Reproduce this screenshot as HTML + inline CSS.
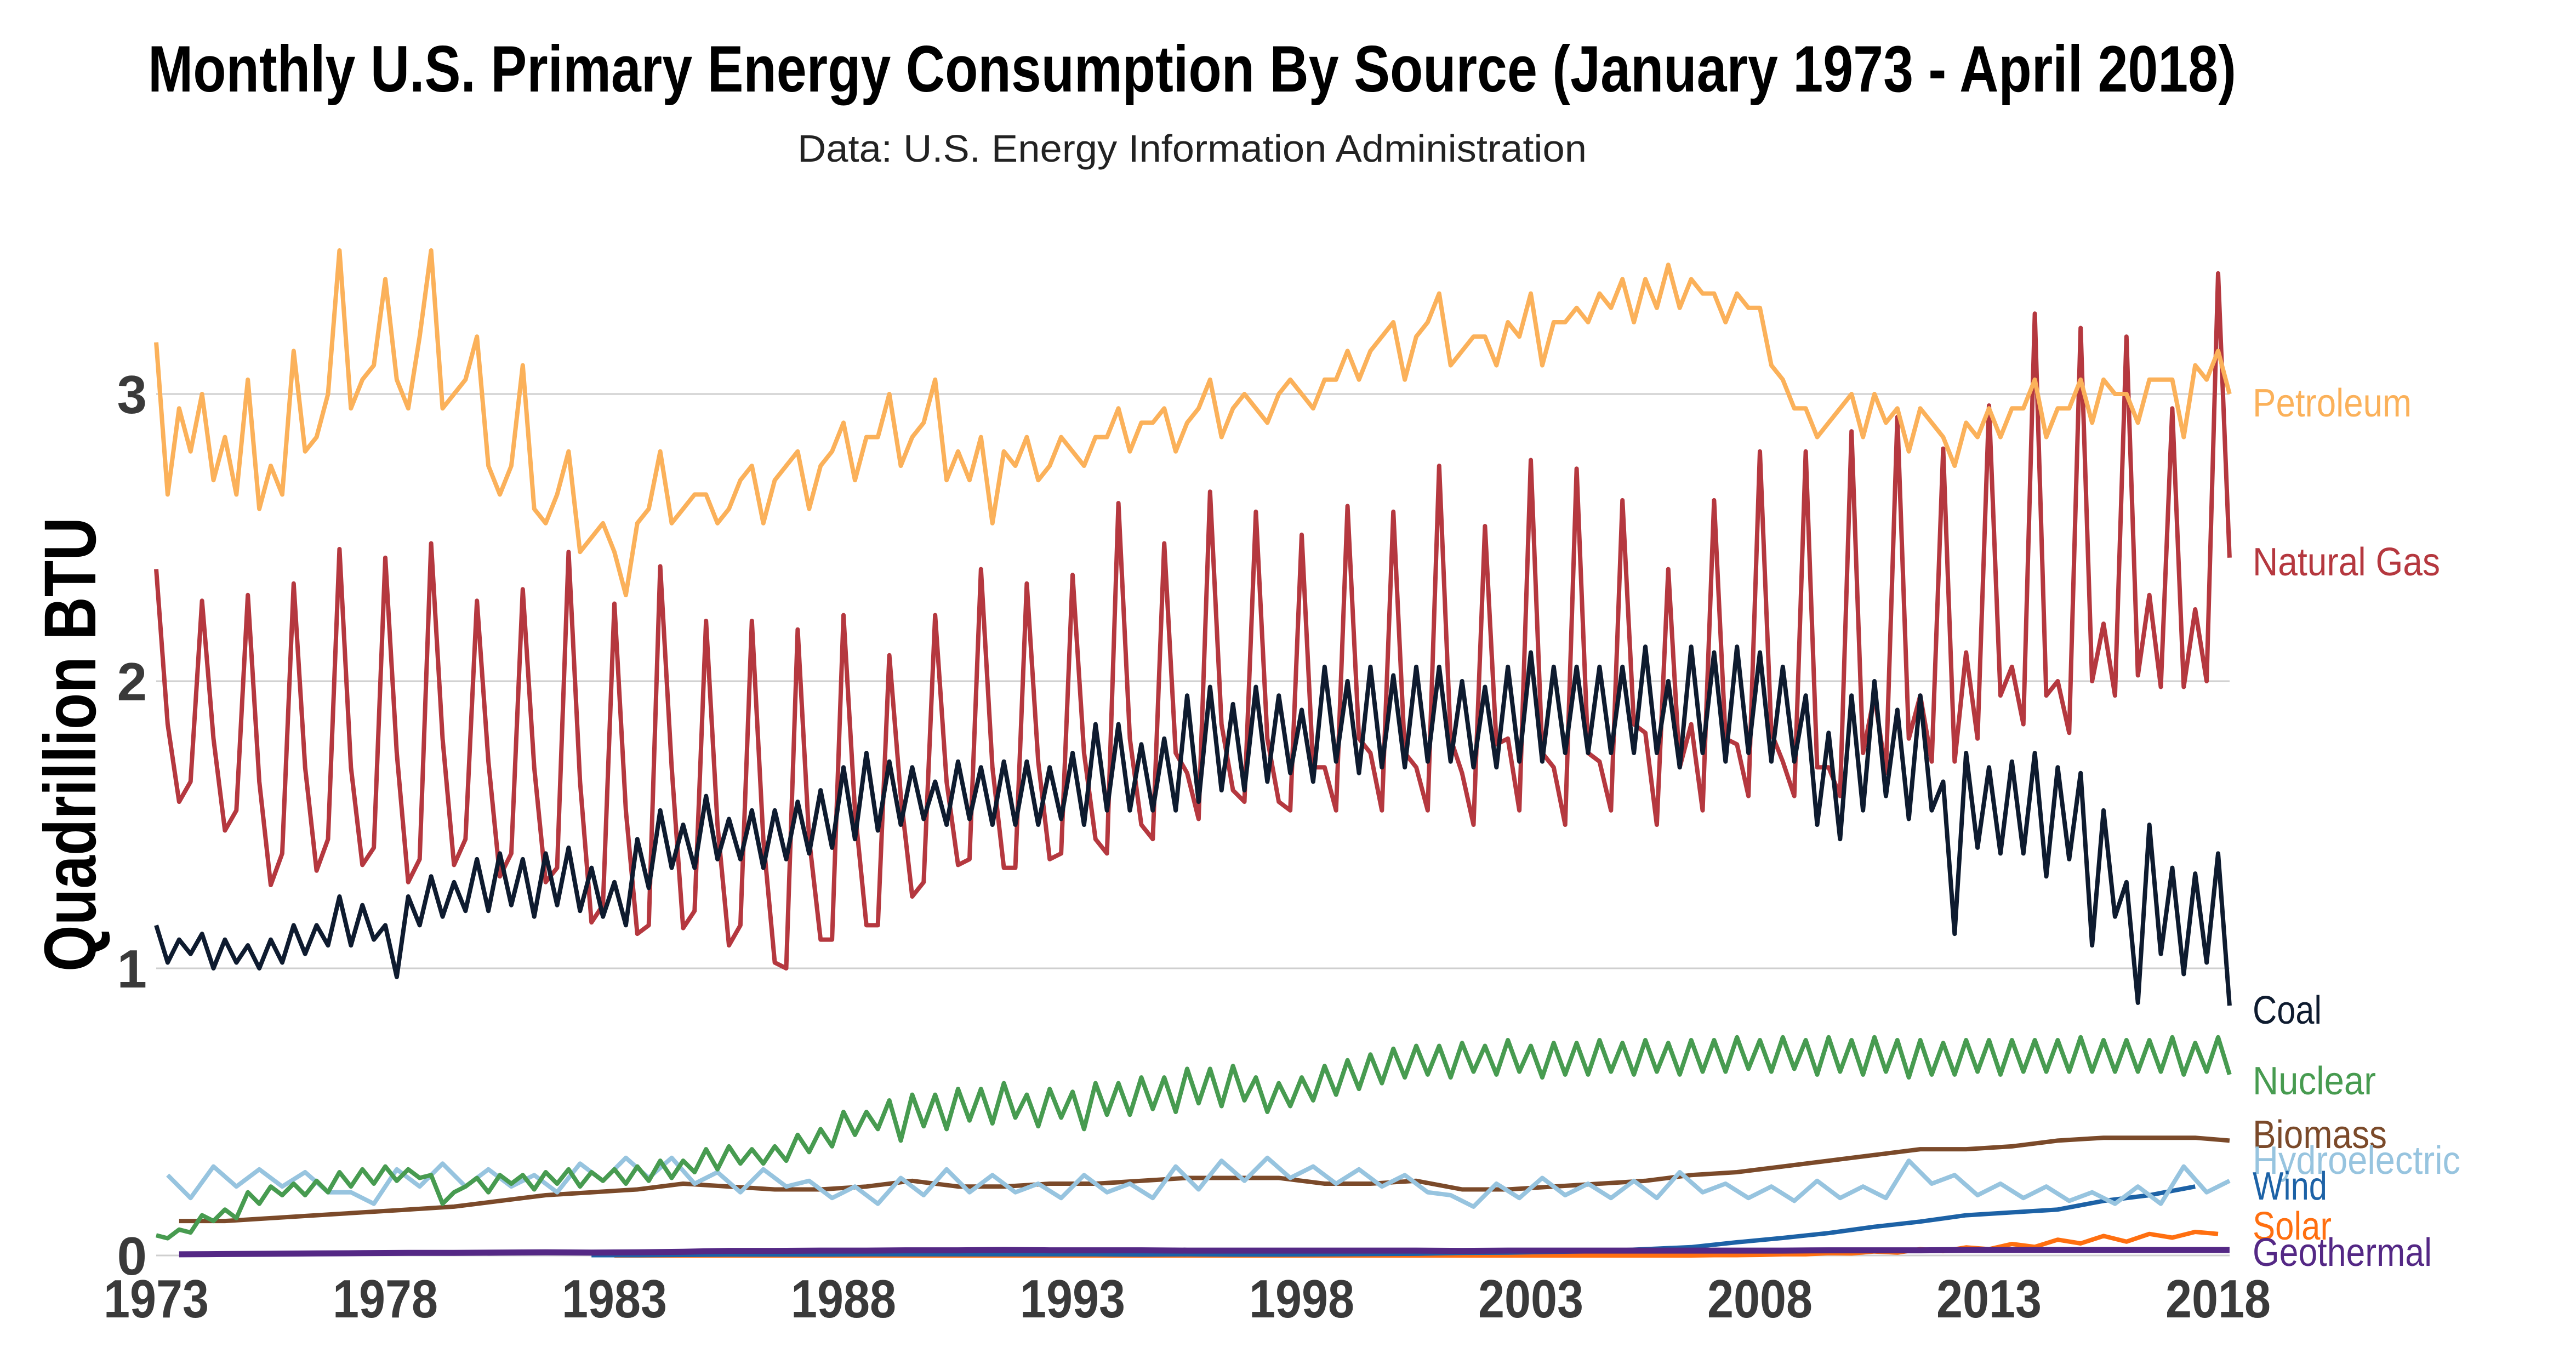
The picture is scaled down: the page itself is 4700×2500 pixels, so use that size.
<!DOCTYPE html>
<html><head><meta charset="utf-8"><style>
html,body{margin:0;padding:0;background:#fff;}
svg{display:block;}
text{font-family:"Liberation Sans Narrow","Liberation Sans",sans-serif;}
</style></head><body>
<svg id="chart" width="4700" height="2500" viewBox="0 0 4700 2500" xmlns="http://www.w3.org/2000/svg">
<rect width="4700" height="2500" fill="#fff"/>
<text x="270" y="167" font-size="120" font-weight="bold" textLength="3810" lengthAdjust="spacingAndGlyphs" fill="#000">Monthly U.S. Primary Energy Consumption By Source (January 1973 - April 2018)</text>
<text x="1455" y="295" font-size="70" textLength="1440" lengthAdjust="spacingAndGlyphs" fill="#222">Data: U.S. Energy Information Administration</text>
<text transform="translate(174,1773) rotate(-90)" x="0" y="0" font-size="134" font-weight="bold" textLength="829" lengthAdjust="spacingAndGlyphs" fill="#000">Quadrillion BTU</text>
<g id="grid"></g>
<g id="yticks"></g>
<g id="xticks"></g>
<g id="series"></g>
<g id="labels"></g>
</svg>
<script>
// ---- data (quarterly: Jan, Apr, Jul, Oct unless noted) ----
const yTickValues = [0, 1, 2, 3];
const xTickYears = [1973, 1978, 1983, 1988, 1993, 1998, 2003, 2008, 2013, 2018];

const petroleum = [3.18,2.65,2.95,2.80, 3.00,2.70,2.85,2.65, 3.05,2.60,2.75,2.65, 3.15,2.80,2.85,3.00, 3.50,2.95,3.05,3.10,
 3.40,3.05,2.95,3.20, 3.50,2.95,3.00,3.05, 3.20,2.75,2.65,2.75, 3.10,2.60,2.55,2.65, 2.80,2.45,2.50,2.55,
 2.45,2.30,2.55,2.60, 2.80,2.55,2.60,2.65, 2.65,2.55,2.60,2.70, 2.75,2.55,2.70,2.75, 2.80,2.60,2.75,2.80,
 2.90,2.70,2.85,2.85, 3.00,2.75,2.85,2.90, 3.05,2.70,2.80,2.70, 2.85,2.55,2.80,2.75, 2.85,2.70,2.75,2.85,
 2.80,2.75,2.85,2.85, 2.95,2.80,2.90,2.90, 2.95,2.80,2.90,2.95, 3.05,2.85,2.95,3.00, 2.95,2.90,3.00,3.05,
 3.00,2.95,3.05,3.05, 3.15,3.05,3.15,3.20, 3.25,3.05,3.20,3.25, 3.35,3.10,3.15,3.20, 3.20,3.10,3.25,3.20,
 3.35,3.10,3.25,3.25, 3.30,3.25,3.35,3.30, 3.40,3.25,3.40,3.30, 3.45,3.30,3.40,3.35, 3.35,3.25,3.35,3.30,
 3.30,3.10,3.05,2.95, 2.95,2.85,2.90,2.95, 3.00,2.85,3.00,2.90, 2.95,2.80,2.95,2.90, 2.85,2.75,2.90,2.85,
 2.95,2.85,2.95,2.95, 3.05,2.85,2.95,2.95, 3.05,2.90,3.05,3.00, 3.00,2.90,3.05,3.05, 3.05,2.85,3.10,3.05,
 3.15,3.00];
const naturalGas = [2.39,1.85,1.58,1.65, 2.28,1.80,1.48,1.55, 2.30,1.65,1.29,1.40, 2.34,1.70,1.34,1.45, 2.46,1.70,1.36,1.42,
 2.43,1.75,1.30,1.38, 2.48,1.80,1.36,1.45, 2.28,1.72,1.32,1.40, 2.32,1.70,1.30,1.35, 2.45,1.65,1.16,1.22,
 2.27,1.55,1.12,1.15, 2.40,1.70,1.14,1.20, 2.21,1.50,1.08,1.15, 2.21,1.45,1.02,1.00, 2.18,1.45,1.10,1.10,
 2.23,1.55,1.15,1.15, 2.09,1.60,1.25,1.30, 2.23,1.65,1.36,1.38, 2.39,1.70,1.35,1.35, 2.34,1.72,1.38,1.40,
 2.37,1.75,1.45,1.40, 2.62,1.80,1.50,1.45, 2.48,1.75,1.68,1.52, 2.66,1.85,1.62,1.58, 2.59,1.80,1.58,1.55,
 2.51,1.70,1.70,1.55, 2.61,1.80,1.75,1.55, 2.59,1.75,1.70,1.55, 2.75,1.80,1.68,1.50, 2.54,1.78,1.80,1.55,
 2.77,1.75,1.70,1.50, 2.74,1.75,1.72,1.55, 2.63,1.85,1.82,1.50, 2.39,1.70,1.85,1.55, 2.63,1.80,1.78,1.60,
 2.80,1.82,1.72,1.60, 2.80,1.70,1.70,1.60, 2.87,1.75,1.95,1.68, 2.92,1.80,1.95,1.72, 2.81,1.72,2.10,1.80,
 2.96,1.95,2.05,1.85, 3.28,1.95,2.00,1.82, 3.23,2.00,2.20,1.95, 3.20,2.02,2.30,1.98, 2.95,1.98,2.25,2.00,
 3.42,2.43];
const coal = [1.15,1.02,1.10,1.05, 1.12,1.00,1.10,1.02, 1.08,1.00,1.10,1.02, 1.15,1.05,1.15,1.08, 1.25,1.08,1.22,1.10,
 1.15,0.97,1.25,1.15, 1.32,1.18,1.30,1.20, 1.38,1.20,1.40,1.22, 1.38,1.18,1.40,1.22, 1.42,1.20,1.35,1.18,
 1.30,1.15,1.45,1.28, 1.55,1.35,1.50,1.35, 1.60,1.38,1.52,1.38, 1.55,1.35,1.55,1.38, 1.58,1.40,1.62,1.42,
 1.70,1.45,1.75,1.48, 1.72,1.50,1.70,1.52, 1.65,1.50,1.72,1.52, 1.70,1.50,1.72,1.50, 1.72,1.50,1.70,1.52,
 1.75,1.50,1.85,1.55, 1.85,1.55,1.78,1.55, 1.80,1.55,1.95,1.58, 1.98,1.62,1.92,1.62, 1.98,1.65,1.95,1.68,
 1.90,1.65,2.05,1.72, 2.00,1.68,2.05,1.70, 2.02,1.70,2.05,1.72, 2.05,1.72,2.00,1.70, 1.98,1.70,2.05,1.72,
 2.10,1.72,2.05,1.75, 2.05,1.75,2.05,1.75, 2.05,1.75,2.12,1.75, 2.00,1.70,2.12,1.75, 2.10,1.72,2.12,1.75,
 2.10,1.72,2.05,1.72, 1.95,1.50,1.82,1.45, 1.95,1.55,2.00,1.60, 1.90,1.52,1.95,1.55, 1.65,1.12,1.75,1.42,
 1.70,1.40,1.72,1.40, 1.75,1.32,1.70,1.38, 1.68,1.08,1.55,1.18, 1.30,0.88,1.50,1.05, 1.35,0.98,1.33,1.02,
 1.40,0.87];
const nuclear = [0.07,0.06,0.09,0.08, 0.14,0.12,0.16,0.13, 0.22,0.18,0.24,0.21, 0.25,0.21,0.26,0.22, 0.29,0.24,0.30,0.25,
 0.31,0.26,0.30,0.27, 0.28,0.18,0.22,0.24, 0.27,0.22,0.28,0.25, 0.28,0.23,0.29,0.25, 0.30,0.24,0.29,0.26,
 0.30,0.25,0.31,0.26, 0.33,0.27,0.33,0.29, 0.37,0.30,0.38,0.32, 0.37,0.32,0.38,0.33, 0.42,0.36,0.44,0.38,
 0.50,0.42,0.50,0.44, 0.54,0.40,0.56,0.45, 0.56,0.44,0.58,0.47, 0.58,0.46,0.60,0.48, 0.56,0.45,0.58,0.48,
 0.57,0.44,0.60,0.49, 0.60,0.49,0.62,0.51, 0.62,0.50,0.65,0.53, 0.65,0.52,0.66,0.54, 0.62,0.50,0.60,0.52,
 0.62,0.54,0.66,0.56, 0.68,0.58,0.70,0.60, 0.72,0.62,0.73,0.63, 0.73,0.62,0.74,0.64, 0.73,0.63,0.75,0.64,
 0.73,0.62,0.74,0.63, 0.74,0.63,0.75,0.64, 0.74,0.63,0.75,0.64, 0.74,0.63,0.75,0.64, 0.75,0.64,0.76,0.65,
 0.75,0.64,0.76,0.65, 0.75,0.63,0.76,0.64, 0.75,0.63,0.76,0.64, 0.75,0.62,0.75,0.63, 0.74,0.63,0.75,0.64,
 0.75,0.63,0.75,0.64, 0.75,0.64,0.75,0.64, 0.76,0.64,0.75,0.64, 0.75,0.64,0.75,0.64, 0.76,0.63,0.74,0.64,
 0.76,0.63];
// hydro: semiannual (Apr, Oct)
const hydro = [0.28,0.20, 0.31,0.24, 0.30,0.24, 0.29,0.22, 0.22,0.18, 0.30,0.24, 0.32,0.24, 0.30,0.24, 0.28,0.22, 0.32,0.26,
 0.34,0.27, 0.34,0.25, 0.29,0.22, 0.30,0.24, 0.26,0.20, 0.24,0.18, 0.27,0.21, 0.30,0.22, 0.28,0.22, 0.25,0.20,
 0.28,0.22, 0.25,0.20, 0.31,0.23, 0.33,0.26, 0.34,0.27, 0.31,0.25, 0.30,0.24, 0.28,0.22, 0.21,0.17, 0.25,0.20,
 0.27,0.21, 0.25,0.20, 0.26,0.20, 0.29,0.22, 0.25,0.20, 0.24,0.19, 0.26,0.20, 0.24,0.20, 0.33,0.25, 0.28,0.21,
 0.25,0.20, 0.24,0.19, 0.22,0.18, 0.24,0.18, 0.31,0.22, 0.26];
// biomass: annual (mid-year)
const biomass = [0.12,0.12,0.13,0.14,0.15,0.16,0.17,0.19,0.21,0.22,0.23,0.25,0.24,0.23,0.23,0.24,0.26,0.24,0.24,0.25,
 0.25,0.26,0.27,0.27,0.27,0.25,0.25,0.26,0.23,0.23,0.24,0.25,0.26,0.28,0.29,0.31,0.33,0.35,0.37,0.37,
 0.38,0.40,0.41,0.41,0.41,0.40];
// wind: annual (mid-year), 1983-2018
const wind = [0.001,0.001,0.002,0.003,0.003,0.003,0.004,0.004,0.004,0.004,
 0.004,0.004,0.003,0.004,0.003,0.003,0.004,0.005,0.006,0.009,0.010,0.013,0.015,0.022,0.029,0.046,0.061,0.078,0.100,0.118,
 0.140,0.150,0.160,0.190,0.210,0.240];
// solar: semiannual (Jan, Jul), 1984-2018
const solar = [0,0,0,0,0,0,0,0,0,0,0,0,0,0,0,0,0,0,0,0,0,0,0,0,0,0,0,0,0,0,0,0,0,0,0,0,0,0,0,0,
 0,0,0,0,0,0,0,0,0.001,0.001,
 0.002,0.004,0.004,0.008,0.007,0.014,0.010,0.022,0.015,0.028,0.022,0.040,0.030,0.055,0.042,0.068,0.048,0.075,0.062,0.082,0.075];
// geothermal: annual
const geothermal = [0.004,0.005,0.006,0.007,0.008,0.009,0.009,0.010,0.011,0.010,0.011,0.013,0.016,0.016,0.017,0.017,0.018,0.018,0.019,0.018,
 0.018,0.018,0.017,0.017,0.017,0.017,0.017,0.017,0.016,0.017,0.017,0.017,0.017,0.017,0.017,0.017,0.018,0.018,0.018,0.019,
 0.019,0.019,0.019,0.019,0.019,0.019];

// ---- scales ----
const X0 = 285, PX_PER_YEAR = 83.6, Y0 = 2291, PX_PER_UNIT = 524;
function xScale(t){ return X0 + (t - 1973) * PX_PER_YEAR; }
function yScale(v){ return Y0 - v * PX_PER_UNIT; }

const NS = "http://www.w3.org/2000/svg";
function mk(tag, attrs){ const e = document.createElementNS(NS, tag); for (const k in attrs) e.setAttribute(k, attrs[k]); return e; }

const grid = document.getElementById('grid'), yt = document.getElementById('yticks');
yTickValues.forEach(v => {
  const l = mk('line', {x1: X0, x2: 4068, y1: yScale(v), y2: yScale(v), stroke: '#cfcfcf', 'stroke-width': 3});
  
  
  grid.appendChild(l);
  const t = mk('text', {x: 268, y: yScale(v) + 35, 'text-anchor': 'end', 'font-size': 98, 'font-weight': 'bold', fill: '#3a3a3a'});
  t.textContent = String(v);
  
  
  yt.appendChild(t);
});
const xt = document.getElementById('xticks');
xTickYears.forEach(yr => {
  const t = mk('text', {x: xScale(yr), y: 2404, 'text-anchor': 'middle', 'font-size': 98, 'font-weight': 'bold', fill: '#3a3a3a', textLength: 192, lengthAdjust: 'spacingAndGlyphs'});
  t.textContent = String(yr);
  
  
  xt.appendChild(t);
});

// end month for end-anchored series (last value placed at this month)
const seriesDefs = [
  {name: 'solar', vals: solar, end: 540, step: 6, color: '#ff6f10', w: 8},
  {name: 'wind', vals: wind, end: 534, step: 12, color: '#1d62a6', w: 8},
  {name: 'geothermal', vals: geothermal, off: 6, step: 12, color: '#542885', w: 11},
  {name: 'biomass', vals: biomass, off: 6, step: 12, color: '#7b4a2a', w: 8},
  {name: 'hydroelectric', vals: hydro, off: 3, step: 6, color: '#97c4df', w: 8},
  {name: 'nuclear', vals: nuclear, off: 0, step: 3, color: '#479b50', w: 8},
  {name: 'natural-gas', vals: naturalGas, off: 0, step: 3, color: '#b5383f', w: 8},
  {name: 'petroleum', vals: petroleum, off: 0, step: 3, color: '#fbb15a', w: 8},
  {name: 'coal', vals: coal, off: 0, step: 3, color: '#0e1b2f', w: 8}
];
const sg = document.getElementById('series');
seriesDefs.forEach(s => {
  const off = (s.end !== undefined) ? s.end - (s.vals.length - 1) * s.step : s.off;
  let pts = [];
  s.vals.forEach((v, i) => {
    let m = off + i * s.step;
    if (m > 543) m = 543;
    pts.push(xScale(1973 + m / 12).toFixed(1) + ',' + yScale(v).toFixed(1));
  });
  const p = mk('polyline', {points: pts.join(' '), fill: 'none', stroke: s.color, 'stroke-width': s.w, 'stroke-linejoin': 'round'});
  
  
  sg.appendChild(p);
});

const labelDefs = [
  ['Petroleum', 760, 290, '#fbb15a'], ['Natural Gas', 1050, 342, '#b5383f'], ['Coal', 1868, 126, '#0e1b2f'],
  ['Nuclear', 1997, 225, '#479b50'], ['Biomass', 2095, 245, '#7b4a2a'], ['Hydroelectric', 2142, 379, '#97c4df'],
  ['Wind', 2189, 136, '#1d62a6'], ['Solar', 2262, 144, '#ff6f10'], ['Geothermal', 2310, 327, '#542885']
];
const lg = document.getElementById('labels');
labelDefs.forEach(d => {
  const t = mk('text', {x: 4110, y: d[1], 'font-size': 72, fill: d[3], textLength: d[2], lengthAdjust: 'spacingAndGlyphs'});
  t.textContent = d[0];
  
  
  lg.appendChild(t);
});
</script>
</body></html>
